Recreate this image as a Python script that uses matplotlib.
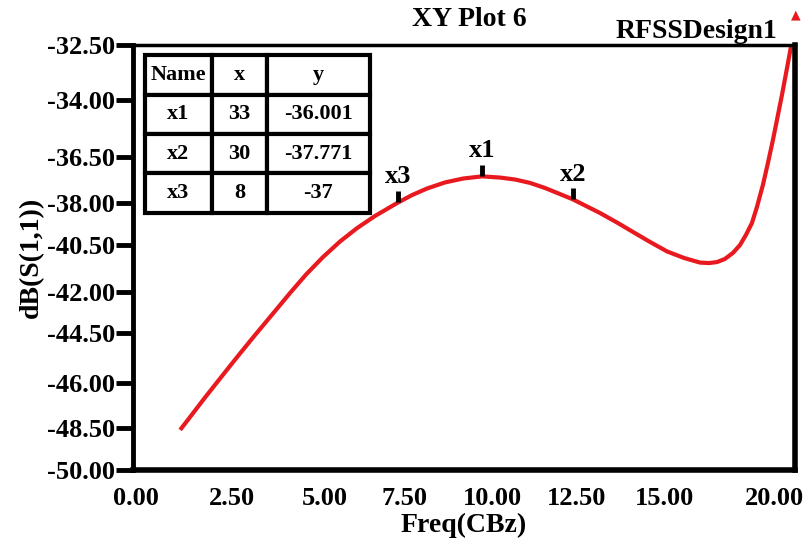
import numpy as np
import matplotlib
matplotlib.use("Agg")
import matplotlib.pyplot as plt

# curve (axis units)
freq = [1.078, 1.421, 1.793, 2.222, 2.708, 3.166, 3.652, 4.224, 4.681, 5.167,
        5.653, 6.140, 6.654, 7.283, 7.712, 8.141, 8.656, 9.171, 9.714, 10.229,
        10.658, 11.087, 11.516, 11.945, 12.316, 12.717, 13.089, 13.574, 14.032,
        14.518, 15.004, 15.490, 15.948, 16.205, 16.434, 16.663, 16.892, 17.092,
        17.263, 17.435, 17.578, 17.749, 17.892, 18.035, 18.150, 18.293, 18.407,
        18.550]
db = [-48.35, -47.71, -47.01, -46.23, -45.35, -44.54, -43.70, -42.71, -41.95,
      -41.23, -40.59, -40.04, -39.54, -39.01, -38.68, -38.41, -38.16, -38.00,
      -37.91, -37.96, -38.04, -38.18, -38.39, -38.64, -38.86, -39.15, -39.42,
      -39.81, -40.20, -40.61, -41.00, -41.27, -41.46, -41.48, -41.44, -41.31,
      -41.06, -40.74, -40.32, -39.83, -39.17, -38.26, -37.36, -36.41, -35.59,
      -34.56, -33.69, -32.58]

marker_names = ["x1", "x2", "x3"]
marker_freq = [9.71, 12.32, 7.31]
marker_db = [-37.91, -38.86, -38.97]

table_head = ["Name", "x", "y"]
table_rows = [["x1", "33", "-36.001"],
              ["x2", "30", "-37.771"],
              ["x3", "8", "-37"]]

ytick_pos = [-50, -48.27, -46.42, -44.36, -42.67, -40.74, -39.01, -37.11, -34.76, -32.5]
ytick_labels = ["-50.00", "-48.50", "-46.00", "-44.50", "-42.00", "-40.50",
                "-38.00", "-36.50", "-34.00", "-32.50"]
xtick_pos = [-0.2, 2.57, 5.22, 7.51, 10.02, 12.42, 14.93, 18.09]
xtick_labels = ["0.00", "2.50", "5.00", "7.50", "10.00", "12.50", "15.00", "20.00"]

plt.rcParams["font.family"] = ["Liberation Serif", "DejaVu Serif"]
plt.rcParams["font.weight"] = "bold"

fig = plt.figure(figsize=(8.11, 5.47), dpi=100)
ax = fig.add_axes([0.164, 0.1408, 0.816, 0.777])

ax.plot(freq, db, color="#e8191f", lw=3.0, solid_capstyle="butt",
        solid_joinstyle="round")

# marker ticks and names
ax.plot(marker_freq, marker_db, ls="none", marker=[(0, 0), (0, 1)], ms=16,
        mew=3.5, mec="black")
for n, fx, fy in zip(marker_names, marker_freq, marker_db):
    ax.annotate(n, (fx, fy), xytext=(0, 10), textcoords="offset points",
                ha="center", va="bottom", fontsize=19, fontweight="bold")

ax.set_xlim(-0.27, 18.66)
ax.set_ylim(-50, -32.5)
ax.set_yticks(ytick_pos)
ax.set_yticklabels(ytick_labels)
ax.set_xticks(xtick_pos)
ax.set_xticklabels(xtick_labels)
ax.tick_params(axis="y", direction="out", length=12, width=3.5, labelsize=19, pad=1)
ax.tick_params(axis="x", length=0, labelsize=19, pad=12)
for lab in ax.get_xticklabels() + ax.get_yticklabels():
    lab.set_fontweight("bold")

for side, w in [("left", 3.5), ("bottom", 4.0), ("right", 4.0), ("top", 2.5)]:
    ax.spines[side].set_linewidth(w)

ax.set_xlabel("Freq(CBz)", fontsize=20, fontweight="bold", labelpad=2)
ax.set_ylabel("dB(S(1,1))", fontsize=20, fontweight="bold", labelpad=2)

fig.text(0.579, 0.965, "XY Plot 6", ha="center", va="center", fontsize=20,
         fontweight="bold")
fig.text(0.958, 0.942, "RFSSDesign1", ha="right", va="center", fontsize=20,
         fontweight="bold")
fig.text(0.981, 0.972, "\u25b2", ha="center", va="center", fontsize=9,
         color="#e8191f", family="DejaVu Sans")

tbl = ax.table(cellText=table_rows, colLabels=table_head, cellLoc="center",
               colWidths=[0.298, 0.244, 0.458], bbox=[0.018, 0.605, 0.34, 0.371])
tbl.auto_set_font_size(False)
for (r, c), cell in tbl.get_celld().items():
    cell.set_linewidth(3)
    cell.set_edgecolor("black")
    cell.get_text().set_fontsize(16)
    cell.get_text().set_fontweight("bold")

fig.savefig("out.png", dpi=100)
